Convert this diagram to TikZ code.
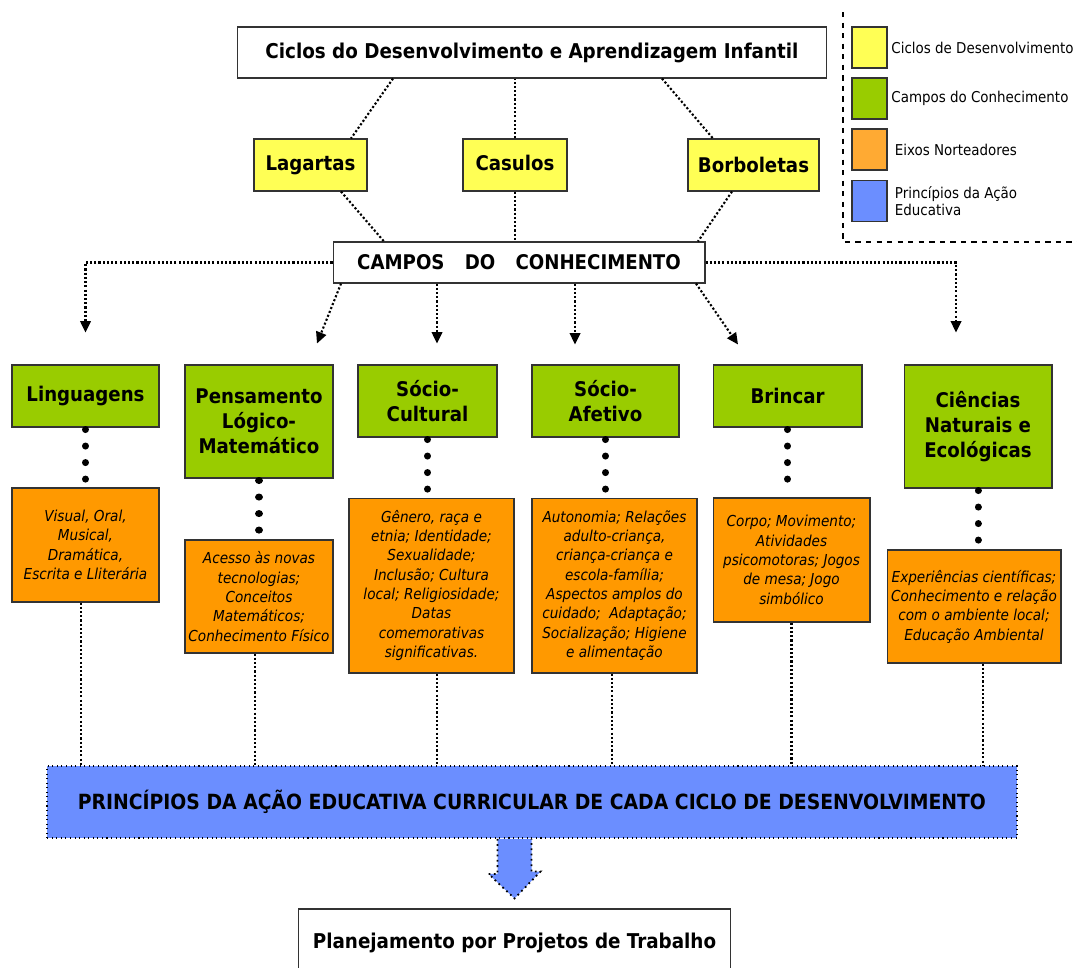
\documentclass[tikz,border=0pt]{standalone}
\usepackage{fontspec}
\setmainfont{DejaVu Sans Condensed}
\usepackage{tikz}
\usetikzlibrary{arrows.meta, positioning, calc}

\definecolor{cicloyellow}{HTML}{FFFF55}
\definecolor{campogreen}{HTML}{99CC00}
\definecolor{eixoorange}{HTML}{FF9900}
\definecolor{legorange}{HTML}{FFAA33}
\definecolor{acaoblue}{HTML}{6B8EFF}

\begin{document}
\begin{tikzpicture}[x=0.02cm, y=-0.02cm,
  box/.style={draw=black!80, line width=0.6pt, align=center, inner sep=0pt},
  ciclo/.style={box, fill=cicloyellow, minimum height=1.04cm, font=\bfseries\fontsize{11.5}{14}\selectfont},
  campo/.style={box, fill=campogreen, font=\bfseries\fontsize{11.5}{14.2}\selectfont},
  eixo/.style={box, fill=eixoorange, font=\itshape\fontsize{8.6}{11}\selectfont},
  link/.style={line width=1.2pt, dash pattern=on 1.2pt off 1.2pt},
  post/.style={link, -{Triangle[length=6.5pt, width=6pt]}},
  beads/.style={line width=4pt, line cap=round, dash pattern=on 0.01pt off 0.33cm, shorten <=0.04cm, shorten >=0.16cm},
  swatch/.style={draw=black!80, line width=0.6pt, minimum width=0.7cm, minimum height=0.82cm},
  leglabel/.style={inner sep=1pt, align=left, font=\fontsize{8.5}{10}\selectfont}]

  \useasboundingbox (0,0) rectangle (1077,967);

  % ciclos
  \node [box, minimum width=11.8cm, minimum height=1.02cm, font=\bfseries\fontsize{11.6}{13}\selectfont]
    (title) at (532,52.5) {Ciclos do Desenvolvimento e Aprendizagem Infantil};
  \node [ciclo, minimum width=2.26cm] (lag) at (310.5,165) {Lagartas};
  \node [ciclo, minimum width=2.08cm] (cas) at (515,165) {\raisebox{3pt}{Casulos}};
  \node [ciclo, minimum width=2.62cm] (bor) at (753.5,165) {Borboletas};
  \node [box, minimum width=7.44cm, minimum height=0.82cm, font=\bfseries\fontsize{11.5}{13}\selectfont]
    (campos) at (519,262.5) {CAMPOS\quad DO\quad CONHECIMENTO};

  \draw [link] ([xshift=-2.78cm]title.south) -- ([xshift=0.81cm]lag.north);
  \draw [link] (cas.north) -- (cas.north |- title.south);
  \draw [link] ([xshift=2.6cm]title.south) -- ([xshift=-0.81cm]bor.north);
  \draw [link] ([xshift=0.61cm]lag.south) -- ([xshift=-2.7cm]campos.north);
  \draw [link] (cas.south) -- (cas.south |- campos.north);
  \draw [link] ([xshift=-0.43cm]bor.south) -- ([xshift=3.58cm]campos.north);

  % campos do conhecimento
  \node [campo, minimum width=2.94cm, minimum height=1.24cm] (ling) at (85.5,396) {Linguagens};
  \node [campo, minimum width=2.96cm, minimum height=2.26cm] (pens) at (259,421.5) {Pensamento\\Lógico-\\Matemático};
  \node [campo, minimum width=2.78cm, minimum height=1.44cm] (socc) at (427.5,401) {Sócio-\\Cultural};
  \node [campo, minimum width=2.94cm, minimum height=1.44cm] (soca) at (605.5,401) {Sócio-\\Afetivo};
  \node [campo, minimum width=2.98cm, minimum height=1.24cm] (brin) at (787.5,396) {Brincar};
  \node [campo, minimum width=2.96cm, minimum height=2.46cm] (cien) at (978,426.5) {Ciências\\Naturais e\\Ecológicas};

  \draw [post] (campos.west) -| ([yshift=0.64cm]ling.north);
  \draw [post] ([xshift=-3.56cm]campos.south) -- ([xshift=1.16cm, yshift=0.42cm]pens.north);
  \draw [post] ([xshift=0.19cm]socc.north |- campos.south) -- ([xshift=0.19cm, yshift=0.42cm]socc.north);
  \draw [post] ([xshift=-0.61cm]soca.north |- campos.south) -- ([xshift=-0.61cm, yshift=0.4cm]soca.north);
  \draw [post] ([xshift=3.54cm]campos.south) -- ([xshift=-0.99cm, yshift=0.4cm]brin.north);
  \draw [post] (campos.east) -| ([xshift=-0.44cm, yshift=0.64cm]cien.north);

  % eixos norteadores
  \node [eixo, minimum width=2.94cm, minimum height=2.28cm] (vis) at (85.5,545)
    {Visual, Oral,\\Musical,\\Dramática,\\Escrita e Lliterária};
  \node [eixo, minimum width=2.96cm, minimum height=2.26cm] (ace) at (259,596.5)
    {Acesso às novas\\tecnologias;\\Conceitos\\Matemáticos;\\Conhecimento Físico};
  \node [eixo, minimum width=3.3cm, minimum height=3.5cm] (gen) at (431.5,585.5)
    {Gênero, raça e\\etnia; Identidade;\\Sexualidade;\\Inclusão; Cultura\\local; Religiosidade;\\Datas\\comemorativas\\significativas.};
  \node [eixo, minimum width=3.3cm, minimum height=3.5cm] (aut) at (614.5,585.5)
    {Autonomia; Relações\\adulto-criança,\\criança-criança e\\escola-família;\\Aspectos amplos do\\cuidado;~ Adaptação;\\Socialização; Higiene\\e alimentação};
  \node [eixo, minimum width=3.14cm, minimum height=2.48cm] (cor) at (791.5,560)
    {Corpo; Movimento;\\Atividades\\psicomotoras; Jogos\\de mesa; Jogo\\simbólico};
  \node [eixo, minimum width=3.48cm, minimum height=2.26cm] (exp) at (974,606.5)
    {Experiências científicas;\\Conhecimento e relação\\com o ambiente local;\\Educação Ambiental};

  \draw [beads] (ling.south) -- (ling.south |- vis.north);
  \draw [beads] (pens.south) -- (pens.south |- ace.north);
  \draw [beads] (socc.south) -- (socc.south |- gen.north);
  \draw [beads] (soca.south) -- (soca.south |- aut.north);
  \draw [beads] (brin.south) -- (brin.south |- cor.north);
  \draw [beads] (cien.south) -- (cien.south |- exp.north);

  % principios
  \node [box, draw=black, dotted, line width=1pt, fill=acaoblue, minimum width=19.4cm, minimum height=1.44cm,
    font=\bfseries\fontsize{11.9}{13}\selectfont] (pri) at (532,802)
    {PRINCÍPIOS DA AÇÃO EDUCATIVA CURRICULAR DE CADA CICLO DE DESENVOLVIMENTO};

  \draw [link] ([xshift=-0.09cm]vis.south) -- ([xshift=-0.09cm]vis.south |- pri.north);
  \draw [link] ([xshift=-0.08cm]ace.south) -- ([xshift=-0.08cm]ace.south |- pri.north);
  \draw [link] ([xshift=0.11cm]gen.south) -- ([xshift=0.11cm]gen.south |- pri.north);
  \draw [link] ([xshift=-0.05cm]aut.south) -- ([xshift=-0.05cm]aut.south |- pri.north);
  \draw [link] (cor.south) -- (cor.south |- pri.north);
  \draw [link] ([xshift=0.18cm]exp.south) -- ([xshift=0.18cm]exp.south |- pri.north);

  \node [box, minimum width=8.66cm, minimum height=1.36cm, font=\bfseries\fontsize{11.6}{13}\selectfont]
    (plan) at (514.5,943) {Planejamento por Projetos de Trabalho};

  % seta grande
  \draw [fill=acaoblue, draw=black, dotted, line width=1pt]
    ([xshift=-0.34cm]plan.north |- pri.south) -- ++(0,35) -- ++(-9,0) -- ([yshift=0.2cm]plan.north)
    -- ++(26,-27) -- ++(-9,0) -- ([xshift=0.34cm]plan.north |- pri.south);

  % legenda
  \draw [dashed, line width=0.6pt] (843,12) |- (1077,242);
  \node [swatch, fill=cicloyellow] (sw1) at (869.5,47.5) {};
  \node [swatch, fill=campogreen] (sw2) at (869.5,98.5) {};
  \node [swatch, fill=legorange] (sw3) at (869.5,149.5) {};
  \node [swatch, fill=acaoblue] (sw4) at (869.5,201) {};
  \node [leglabel, right=1pt of sw1] {Ciclos de Desenvolvimento};
  \node [leglabel, right=1pt of sw2] {Campos do Conhecimento};
  \node [leglabel, right=3pt of sw3] {Eixos Norteadores};
  \node [leglabel, right=3pt of sw4] {Princípios da Ação\\Educativa};

\end{tikzpicture}
\end{document}
